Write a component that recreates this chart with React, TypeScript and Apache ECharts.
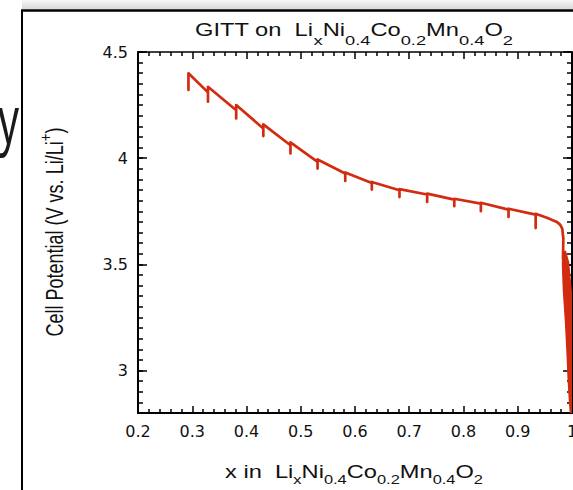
import React, { useEffect, useRef } from 'react';
import * as echarts from 'echarts';

// ---- data ----
const xTicks = [0.2, 0.3, 0.4, 0.5, 0.6, 0.7, 0.8, 0.9, 1.0];
const yTickLabels = [3, 3.5, 4, 4.5];

// GITT pulses: x position, voltage on arrival (end of pulse), bottom of spike, relaxed peak
const pulseX = [0.293, 0.329, 0.381, 0.431, 0.481, 0.531, 0.582, 0.631, 0.682, 0.733, 0.783, 0.832, 0.883, 0.933];
const arriveV = [4.321, 4.31, 4.226, 4.14, 4.061, 3.983, 3.928, 3.883, 3.849, 3.829, 3.805, 3.786, 3.758, 3.734];
const spikeV = [4.321, 4.266, 4.187, 4.104, 4.022, 3.951, 3.893, 3.852, 3.817, 3.794, 3.774, 3.75, 3.723, 3.671];
const relaxedV = [4.4, 4.336, 4.25, 4.159, 4.074, 3.994, 3.933, 3.888, 3.854, 3.833, 3.809, 3.79, 3.762, 3.738];

// end of curve after last pulse
const tailX = [0.955, 0.972, 0.978, 0.982, 0.984, 0.9834];
const tailV = [3.718, 3.7, 3.687, 3.668, 3.621, 3.528];

// dense pulse band near x = 1 (left edge top->bottom, right edge bottom->top)
const bandLeftX = [0.9834, 0.9825, 0.9843, 0.988, 0.9908, 0.9932, 0.9954, 0.9972, 0.998];
const bandLeftV = [3.56, 3.5, 3.377, 3.236, 3.094, 2.953, 2.858, 2.797, 2.75];
const bandRightX = [1.01, 1.01, 1.0, 0.9935, 0.988];
const bandRightV = [2.75, 3.2, 3.33, 3.509, 3.56];

const RED = '#d22b10';
const FONT = 'Liberation Sans';

type Tok = { t: string; sub?: boolean; sup?: boolean };
const titleTokens: Tok[] = [
  { t: 'GITT on\u00a0 Li' }, { t: 'x', sub: true }, { t: 'Ni' }, { t: '0.4', sub: true },
  { t: 'Co' }, { t: '0.2', sub: true }, { t: 'Mn' }, { t: '0.4', sub: true }, { t: 'O' }, { t: '2', sub: true },
];
const xTitleTokens: Tok[] = [
  { t: 'x in\u00a0 Li' }, { t: 'x', sub: true }, { t: 'Ni' }, { t: '0.4', sub: true },
  { t: 'Co' }, { t: '0.2', sub: true }, { t: 'Mn' }, { t: '0.4', sub: true }, { t: 'O' }, { t: '2', sub: true },
];
const yTitleTokens: Tok[] = [{ t: 'Cell Potential (V vs. Li/Li' }, { t: '+', sup: true }, { t: ')' }];

let _ctx: CanvasRenderingContext2D | null = null;
function measure(s: string, fs: number) {
  if (!_ctx) _ctx = document.createElement('canvas').getContext('2d');
  if (!_ctx) return s.length * fs * 0.55;
  _ctx.font = `${fs}px "${FONT}"`;
  return _ctx.measureText(s).width;
}

function formula(
  tokens: Tok[],
  o: { x: number; y: number; mainFs: number; subFs: number; subDy: number; supDy?: number; len: number; cross: number; rotate?: boolean }
) {
  const widths = tokens.map((tk) => measure(tk.t, tk.sub || tk.sup ? o.subFs : o.mainFs));
  const W = widths.reduce((a, b) => a + b, 0);
  let cx = -W / 2;
  const children = tokens.map((tk, i) => {
    const fs = tk.sub || tk.sup ? o.subFs : o.mainFs;
    const el = {
      type: 'text',
      x: cx,
      y: tk.sub ? o.subDy : tk.sup ? o.supDy || 0 : 0,
      style: {
        text: tk.t, fontSize: fs, fontFamily: FONT, fill: '#111',
        align: 'left', verticalAlign: 'middle', textAlign: 'left', textVerticalAlign: 'middle',
      },
    };
    cx += widths[i];
    return el;
  });
  return {
    type: 'group',
    x: o.x,
    y: o.y,
    rotation: o.rotate ? Math.PI / 2 : 0,
    scaleX: o.len / W,
    scaleY: o.cross,
    children,
  };
}

function buildLine() {
  const pts: number[][] = [];
  for (let i = 0; i < pulseX.length; i++) {
    pts.push([pulseX[i], arriveV[i]]);
    pts.push([pulseX[i], spikeV[i]]);
    pts.push([pulseX[i], relaxedV[i]]);
  }
  for (let i = 0; i < tailX.length; i++) pts.push([tailX[i], tailV[i]]);
  return pts;
}

function buildBand() {
  const pts: number[][] = [];
  for (let i = 0; i < bandLeftX.length; i++) pts.push([bandLeftX[i], bandLeftV[i]]);
  for (let i = 0; i < bandRightX.length; i++) pts.push([bandRightX[i], bandRightV[i]]);
  return pts;
}

const tickStyle = { color: '#000', width: 1.5 };
const labelStyle = { fontSize: 16, fontFamily: 'DejaVu Sans', color: '#111' };

export default function App() {
  const ref = useRef<HTMLDivElement>(null);
  useEffect(() => {
    if (!ref.current) return;
    const chart = echarts.init(ref.current, null, { renderer: 'svg', width: 573, height: 490 });
    const bandPts = buildBand();
    const yMin = 2.8;
    const yMax = 4.5;
    const xMin = xTicks[0];
    const xMax = xTicks[xTicks.length - 1];
    const option: any = {
      animation: false,
      backgroundColor: '#fff',
      grid: { left: 138, top: 52, right: 1, bottom: 77, containLabel: false, outerBoundsMode: 'none' },
      xAxis: [
        {
          type: 'value', position: 'bottom', min: xMin, max: xMax, interval: 0.1,
          axisLine: { lineStyle: { color: '#000', width: 2 } },
          axisTick: { inside: true, length: 7, lineStyle: tickStyle },
          minorTick: { show: true, splitNumber: 5, length: 4, lineStyle: tickStyle },
          splitLine: { show: false }, minorSplitLine: { show: false },
          axisLabel: { ...labelStyle, margin: 10, showMinLabel: true, showMaxLabel: true, hideOverlap: false },
        },
        {
          type: 'value', position: 'top', min: xMin, max: xMax, interval: 0.1,
          axisLine: { lineStyle: { color: '#000', width: 1.5 } },
          axisTick: { inside: true, length: 7, lineStyle: tickStyle },
          minorTick: { show: true, splitNumber: 5, length: 4, lineStyle: tickStyle },
          splitLine: { show: false }, minorSplitLine: { show: false },
          axisLabel: { show: false },
        },
      ],
      yAxis: [
        {
          type: 'value', position: 'left', min: yMin, max: yMax, interval: 0.05,
          axisLine: { show: true, lineStyle: { color: '#000', width: 2 } },
          axisTick: { inside: true, length: 5, lineStyle: tickStyle },
          splitLine: { show: false },
          axisLabel: { show: false },
        },
        {
          type: 'value', position: 'left', min: yMin, max: yMax,
          axisLine: { show: false },
          axisTick: { show: true, inside: true, length: 9, lineStyle: tickStyle, customValues: yTickLabels },
          splitLine: { show: false },
          axisLabel: { ...labelStyle, margin: 10, customValues: yTickLabels },
        },
        {
          type: 'value', position: 'right', min: yMin, max: yMax, interval: 0.05,
          axisLine: { show: true, lineStyle: { color: '#000', width: 2 } },
          axisTick: { inside: true, length: 5, lineStyle: tickStyle },
          splitLine: { show: false },
          axisLabel: { show: false },
        },
        {
          type: 'value', position: 'right', min: yMin, max: yMax,
          axisLine: { show: false },
          axisTick: { show: true, inside: true, length: 9, lineStyle: tickStyle, customValues: yTickLabels },
          splitLine: { show: false },
          axisLabel: { show: false },
        },
      ],
      series: [
        {
          type: 'line',
          xAxisIndex: 0,
          yAxisIndex: 0,
          data: buildLine(),
          showSymbol: false,
          symbol: 'none',
          clip: true,
          lineStyle: { color: RED, width: 2.7, join: 'round', cap: 'round' },
          z: 3,
        },
        {
          type: 'custom',
          xAxisIndex: 0,
          yAxisIndex: 0,
          clip: true,
          data: [[0.99, 3.0]],
          renderItem: (_p: any, api: any) => ({
            type: 'polygon',
            shape: { points: bandPts.map((p) => api.coord(p)) },
            style: { fill: RED, stroke: RED, lineWidth: 1.5 },
          }),
          z: 3,
        },
      ],
      graphic: [
        {
          type: 'rect',
          shape: { x: 22, y: 0, width: 551, height: 9 },
          style: {
            fill: new echarts.graphic.LinearGradient(0, 0, 0, 1, [
              { offset: 0, color: '#f7f7f7' },
              { offset: 1, color: '#d9d9d9' },
            ]),
          },
          silent: true,
        },
        { type: 'line', shape: { x1: 21, y1: 10.5, x2: 573, y2: 10.5 }, style: { stroke: '#000', lineWidth: 2.5 } },
        { type: 'line', shape: { x1: 22, y1: 10, x2: 22, y2: 490 }, style: { stroke: '#000', lineWidth: 2 } },
        {
          type: 'text', x: -2, y: 121, scaleX: 0.62,
          style: {
            text: 'y', fontSize: 68, fontFamily: FONT, fill: '#1a1a1a',
            align: 'left', verticalAlign: 'middle', textAlign: 'left', textVerticalAlign: 'middle',
          },
        },
        formula(titleTokens, { x: 354, y: 29.7, mainFs: 17.5, subFs: 13.5, subDy: 10.3, len: 318, cross: 1 }),
        formula(xTitleTokens, { x: 354, y: 471.7, mainFs: 18, subFs: 12.5, subDy: 7.8, len: 258, cross: 1 }),
        formula(yTitleTokens, { x: 55, y: 232, mainFs: 16.5, subFs: 12, subDy: 0, supDy: -7, len: 209, cross: 1.4, rotate: true }),
      ],
    };
    chart.setOption(option);
    return () => chart.dispose();
  }, []);
  return (
    <div style={{ position: 'fixed', left: 0, top: 0, width: 573, height: 490, overflow: 'hidden', background: '#fff' }}>
      <div ref={ref} style={{ width: 573, height: 490 }} />
    </div>
  );
}
